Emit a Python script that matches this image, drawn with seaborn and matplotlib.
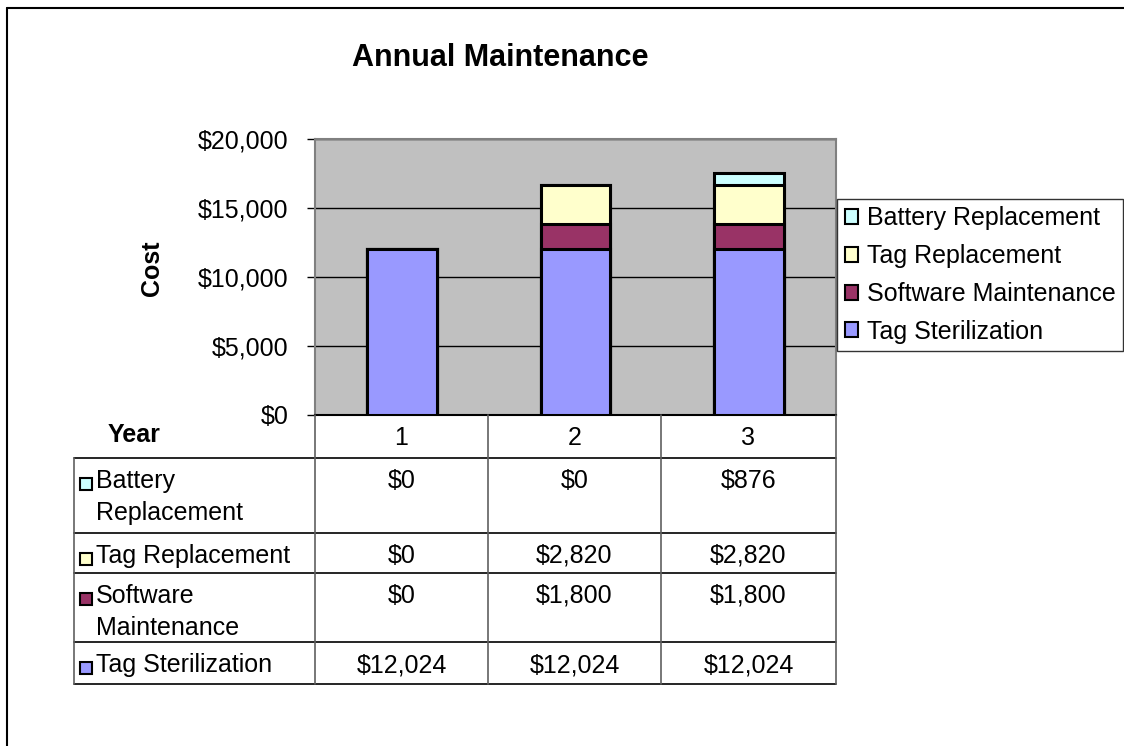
import matplotlib
matplotlib.use("Agg")
import matplotlib.pyplot as plt
import seaborn as sns
from matplotlib.lines import Line2D
from matplotlib.patches import Rectangle
from matplotlib.ticker import FuncFormatter

# data
years = ["1", "2", "3"]
tag_sterilization = [12024, 12024, 12024]
software_maintenance = [0, 1800, 1800]
tag_replacement = [0, 2820, 2820]
battery_replacement = [0, 0, 876]

# stacking order bottom -> top
series_names = ["Tag Sterilization", "Software Maintenance", "Tag Replacement", "Battery Replacement"]
series_values = [tag_sterilization, software_maintenance, tag_replacement, battery_replacement]
series_colors = ["#9999FF", "#993366", "#FFFFCC", "#CCFFFF"]
table_names = {
    "Battery Replacement": "Battery\nReplacement",
    "Tag Replacement": "Tag Replacement",
    "Software Maintenance": "Software\nMaintenance",
    "Tag Sterilization": "Tag Sterilization",
}

sns.set_theme(style="white")
plt.rcParams["font.family"] = ["Liberation Sans", "DejaVu Sans"]
plt.rcParams["text.color"] = "black"
plt.rcParams["ytick.labelcolor"] = "black"

W, H = 1124, 746
FS = 18


def fx(x):
    return x / W


def fy(y):
    return 1 - y / H


fig = plt.figure(figsize=(W / 100, H / 100), dpi=100)

# outer chart border (top and left visible)
fig.add_artist(Line2D([fx(7), 1], [fy(8), fy(8)], color="black", lw=1.5))
fig.add_artist(Line2D([fx(7), fx(7)], [fy(8), 0], color="black", lw=1.5))

ax = fig.add_axes([fx(315), fy(415), (836 - 315) / W, (415 - 139) / H])
ax.set_facecolor("#C0C0C0")

cum = [0, 0, 0]
cums = []
for vals in series_values:
    cum = [c + v for c, v in zip(cum, vals)]
    cums.append(cum)

# draw cumulative totals from the top series down so each layer shows
for name, total, color in reversed(list(zip(series_names, cums, series_colors))):
    sns.barplot(x=years, y=total, color=color, width=0.4, edgecolor="black",
                linewidth=2.2, saturation=1, errorbar=None, ax=ax, zorder=3)

ax.set_xlim(-0.5, 2.5)
ax.set_ylim(0, 20000)
ax.set_yticks(range(0, 20001, 5000))
ax.yaxis.set_major_formatter(FuncFormatter(lambda v, p: f"${int(v):,}"))
ax.yaxis.grid(True, color="black", lw=1, zorder=0)
ax.set_axisbelow(True)
ax.set_xticks([])
ax.set_xlabel("")
ax.set_ylabel("")
ax.tick_params(axis="y", labelsize=FS, length=6, width=1, color="black",
               left=True, direction="out", pad=13)
for s in ax.spines.values():
    s.set_color("#808080")
    s.set_linewidth(1.5)
ax.spines["bottom"].set_color("black")

fig.text(fx(500), fy(58), "Annual Maintenance", ha="center", va="center",
         fontsize=22, fontweight="bold")
fig.text(fx(152), fy(268), "Cost", ha="center", va="center", rotation=90,
         fontsize=FS, fontweight="bold")

# legend
handles = [Rectangle((0, 0), 1, 1, facecolor=c, edgecolor="black", lw=1.5)
           for c in series_colors]
leg = fig.legend(handles[::-1], series_names[::-1], loc="upper left",
                 bbox_to_anchor=(fx(837), fy(199)), bbox_transform=fig.transFigure,
                 fontsize=FS, frameon=True, fancybox=False, borderaxespad=0,
                 handlelength=0.55, handleheight=0.55, handletextpad=0.35,
                 labelspacing=0.55, borderpad=0.3)
leg.get_frame().set_edgecolor("black")
leg.get_frame().set_linewidth(1)

# data table under the plot
col_x = [74, 315, 488, 661, 836]
row_y = [458, 533, 573, 642, 684]
for y in row_y:
    fig.add_artist(Line2D([fx(col_x[0]), fx(col_x[-1])], [fy(y), fy(y)], color="black", lw=1.2))
fig.add_artist(Line2D([fx(col_x[0]), fx(col_x[0])], [fy(row_y[0]), fy(row_y[-1])],
                      color="#606060", lw=1.2))
for x in col_x[1:]:
    fig.add_artist(Line2D([fx(x), fx(x)], [fy(415), fy(row_y[-1])], color="#606060", lw=1.2))

fig.text(fx(134), fy(435), "Year", ha="center", va="center", fontsize=FS, fontweight="bold")
for i, yr in enumerate(years):
    cx = (col_x[i + 1] + col_x[i + 2]) / 2
    fig.text(fx(cx), fy(438), yr, ha="center", va="center", fontsize=FS)

table_rows = list(zip(series_names, series_values, series_colors))[::-1]
for r, (name, vals, color) in enumerate(table_rows):
    top = row_y[r]
    fig.add_artist(Rectangle((fx(80), fy(top + 32)), 12 / W, 12 / H,
                             facecolor=color, edgecolor="black", lw=1.5,
                             transform=fig.transFigure))
    fig.text(fx(96), fy(top + 11), table_names[name], ha="left", va="top",
             fontsize=FS, linespacing=1.4)
    for i, v in enumerate(vals):
        cx = (col_x[i + 1] + col_x[i + 2]) / 2
        fig.text(fx(cx), fy(top + 11), f"${v:,}", ha="center", va="top", fontsize=FS)

fig.savefig("out.png", dpi=100)
